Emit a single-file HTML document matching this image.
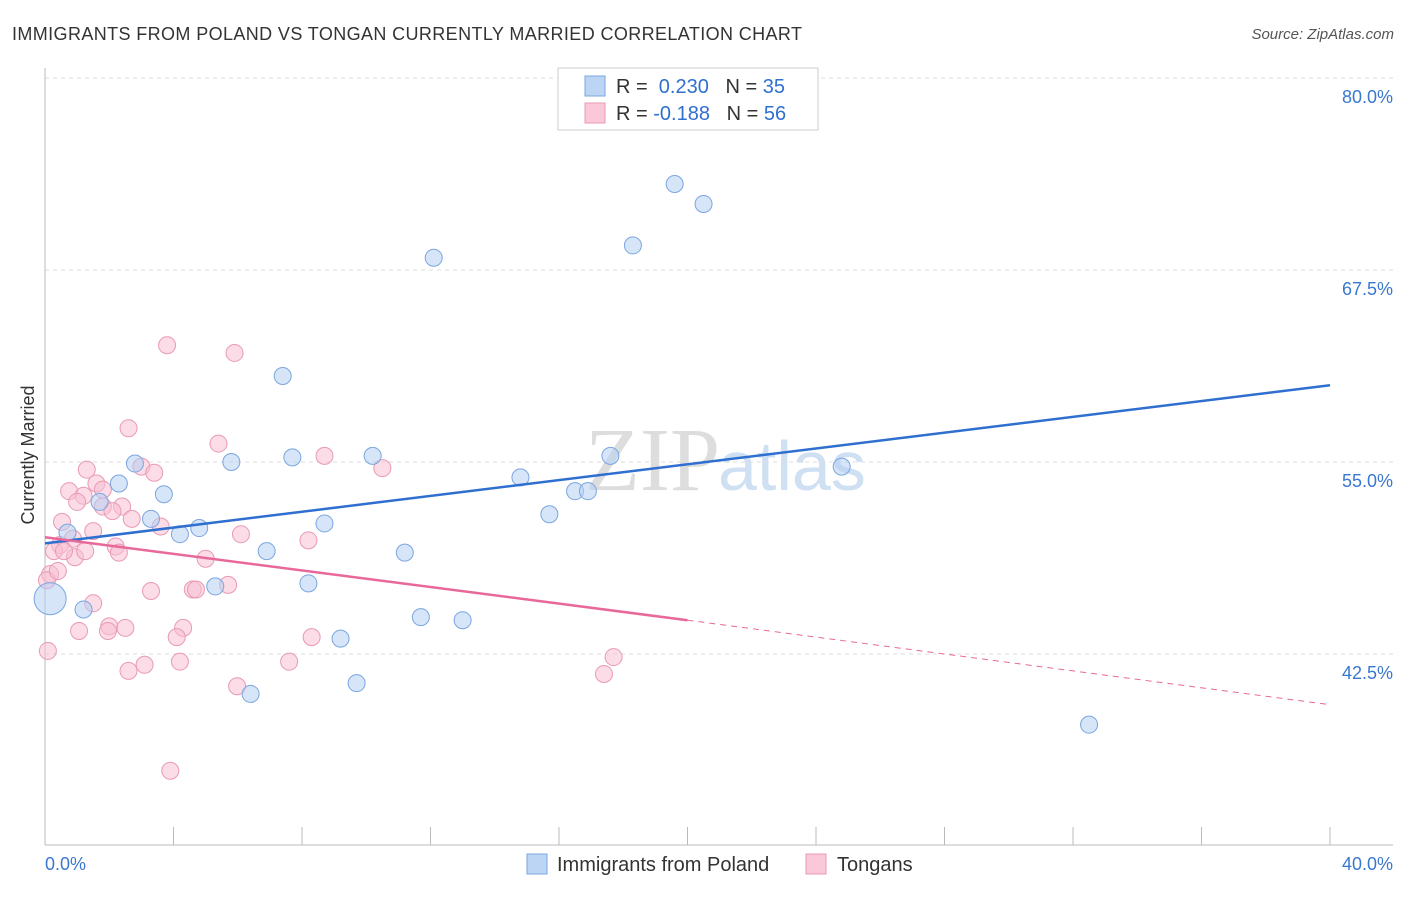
<!DOCTYPE html>
<html><head><meta charset="utf-8"><style>
body{margin:0;background:#fff;font-family:"Liberation Sans",sans-serif}
</style></head><body>
<svg width="1406" height="892" xmlns="http://www.w3.org/2000/svg" id="svg">
<text x="12" y="40" font-size="18" fill="#333" textLength="790">IMMIGRANTS FROM POLAND VS TONGAN CURRENTLY MARRIED CORRELATION CHART</text>
<text x="1394" y="39" font-size="15" fill="#555" font-style="italic" text-anchor="end">Source: ZipAtlas.com</text>
<text x="720" y="490" font-size="90" fill="#ddd" text-anchor="end" font-family="Liberation Serif">ZIP</text>
<text x="718" y="490" font-size="70" fill="#cfe0f3">atlas</text>
<text x="34" y="455" font-size="18" fill="#333" transform="rotate(-90 34 455)" text-anchor="middle">Currently Married</text>
<g id="grid"></g><g id="pts"></g><g id="lines"></g>
<g>
<rect x="558" y="68" width="260" height="62" fill="#fff" stroke="#ccc"/>
<rect x="585" y="76" width="20" height="20" fill="#bcd5f5" stroke="#7aa6e0"/>
<rect x="585" y="103" width="20" height="20" fill="#fac8d8" stroke="#e99ab4"/>
<text x="616" y="93" font-size="20" fill="#333">R = <tspan fill="#2f6fd0">&#160;0.230</tspan>&#160;&#160;&#160;N = <tspan fill="#2f6fd0">35</tspan></text>
<text x="616" y="120" font-size="20" fill="#333">R = <tspan fill="#2f6fd0">-0.188</tspan>&#160;&#160;&#160;N = <tspan fill="#2f6fd0">56</tspan></text>
</g>
<g>
<rect x="527" y="854" width="20" height="20" fill="#bcd5f5" stroke="#7aa6e0"/>
<text x="557" y="871" font-size="20" fill="#333">Immigrants from Poland</text>
<rect x="806" y="854" width="20" height="20" fill="#fac8d8" stroke="#e99ab4"/>
<text x="837" y="871" font-size="20" fill="#333">Tongans</text>
</g>
<text x="45" y="870" font-size="18" fill="#3a78d0">0.0%</text>
<text x="1393" y="870" font-size="18" fill="#3a78d0" text-anchor="end">40.0%</text>
</svg>
<script>
const yTicks=[80,67.5,55,42.5];
const yTickLabels=["80.0%","67.5%","55.0%","42.5%"];
const xTicks=[0,4,8,12,16,20,24,28,32,36,40];
const polandX=[19.6,20.5,18.3,12.1,7.4,7.7,10.2,5.8,2.8,2.3,3.7,14.8,17.6,16.5,16.9,15.7,24.8,3.3,1.7,0.7,4.2,4.8,8.7,6.9,11.2,5.3,8.2,1.2,11.7,13.0,9.2,9.7,6.4,32.5,0.16];
const polandY=[73.1,71.8,69.1,68.3,60.6,55.3,55.4,55.0,54.9,53.6,52.9,54.0,55.4,53.1,53.1,51.6,54.7,51.3,52.4,50.4,50.3,50.7,51.0,49.2,49.1,46.9,47.1,45.4,44.9,44.7,43.5,40.6,39.9,37.9,46.1];
const tonganX=[3.8,5.9,2.6,5.4,8.7,3.0,3.4,10.5,1.3,1.6,0.75,1.2,1.8,1.0,2.4,1.8,2.7,3.6,0.53,6.1,1.5,0.87,0.47,0.28,0.93,2.2,2.3,8.2,5.0,0.16,0.06,5.7,3.3,4.6,4.7,1.5,4.3,2.0,2.5,1.96,1.06,4.1,8.3,17.7,17.4,0.09,4.2,3.1,2.6,7.6,5.98,3.9,0.4,2.1,1.25,0.59];
const tonganY=[62.6,62.1,57.2,56.2,55.4,54.7,54.3,54.6,54.5,53.6,53.1,52.8,53.2,52.4,52.1,52.1,51.3,50.8,51.1,50.3,50.5,50.0,49.6,49.2,48.8,49.5,49.1,49.9,48.7,47.7,47.3,47.0,46.6,46.7,46.7,45.8,44.2,44.3,44.2,44.0,44.0,43.6,43.6,42.3,41.2,42.7,42.0,41.8,41.4,42.0,40.4,34.9,47.9,51.8,49.2,49.2];
const W=1406,x0=45,x1=1330,yTop=78,pxPer=15.36;
const X=v=>x0+v/40*(x1-x0), Y=v=>yTop+(80-v)*pxPer;
const NS="http://www.w3.org/2000/svg";
function mk(t,a,p){const e=document.createElementNS(NS,t);for(const k in a)e.setAttribute(k,a[k]);document.getElementById(p).appendChild(e);return e;}
yTicks.forEach((v,i)=>{
 const l=mk('line',{x1:x0,x2:1393,y1:Y(v),y2:Y(v),stroke:'#ddd','stroke-dasharray':'4 4'},'grid');
 
 
 const t=mk('text',{x:1393,y:Y(v)+25,'font-size':18,fill:'#3a78d0','text-anchor':'end'},'grid');t.textContent=yTickLabels[i];
 
 
});
let ax=mk('line',{x1:x0,x2:x0,y1:68,y2:845,stroke:'#bbb'},'grid');


let bx=mk('line',{x1:x0,x2:1393,y1:845,y2:845,stroke:'#bbb'},'grid');


xTicks.forEach(v=>{const t=mk('line',{x1:X(v),x2:X(v),y1:827,y2:845,stroke:'#bbb'},'grid');
 
 });
tonganX.forEach((v,i)=>{const c=mk('circle',{cx:X(v),cy:Y(tonganY[i]),r:8.5,fill:'#f7c0d3','fill-opacity':0.55,stroke:'#e99ab4'},'pts');
 
 });
polandX.forEach((v,i)=>{const c=mk('circle',{cx:X(v),cy:Y(polandY[i]),r:i==34?16:8.5,fill:'#b5d0f2','fill-opacity':0.55,stroke:'#7aa6e0'},'pts');
 
 });
let b=mk('line',{x1:X(0),y1:Y(49.7),x2:X(40),y2:Y(60.0),stroke:'#2f6fd0','stroke-width':2.5},'lines');


let p=mk('line',{x1:X(0),y1:Y(50.1),x2:X(20),y2:Y(44.7),stroke:'#e8689a','stroke-width':2.5},'lines');


let pd=mk('line',{x1:X(20),y1:Y(44.7),x2:X(40),y2:Y(39.2),stroke:'#e8689a','stroke-width':1,'stroke-dasharray':'6 5'},'lines');


</script>
</body></html>
